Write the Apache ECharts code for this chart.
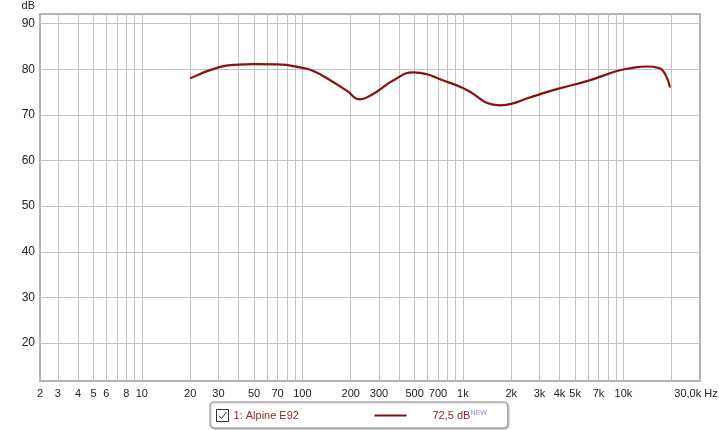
<!DOCTYPE html>
<html>
<head>
<meta charset="utf-8">
<script src="https://cdn.jsdelivr.net/npm/echarts@6/dist/echarts.min.js"></script>
<style>
  html, body { margin: 0; padding: 0; background: #fff; }
  #chart { width: 719px; height: 430px; }
</style>
</head>
<body>
<div id="chart"></div>
<script>
// frequency response (Hz -> dB)
var freqs = [20, 30, 40, 50, 70, 100, 117, 149, 189, 229, 264, 300, 370, 492, 597, 722, 1000, 1706, 2000, 2500, 3000, 4000, 6070, 9100, 11000, 14000, 16500, 18200, 19500]
var spl = [78.0, 80.4, 81.0, 81.1, 81.05, 80.3, 79.6, 77.6, 75.3, 73.4, 74.2, 75.4, 77.6, 79.3, 78.9, 77.8, 75.9, 72.1, 72.4, 73.6, 74.5, 75.8, 77.5, 79.6, 80.2, 80.6, 80.3, 78.9, 76.0]

// axis range and grid
var freqMin = 2.32
var freqMax = 30000
var gridFreqs = [3, 4, 5, 6, 7, 8, 9, 10, 20, 30, 40, 50, 60, 70, 80, 90, 100, 200, 300, 400, 500, 600, 700, 800, 900,
  1000, 2000, 3000, 4000, 5000, 6000, 7000, 8000, 9000, 10000, 20000]
var labelFreqs = [freqMin, 3, 4, 5, 6, 8, 10, 20, 30, 50, 70, 100, 200, 300, 500, 700, 1000, 2000, 3000, 4000, 5000, 7000, 10000, freqMax]
var labelTexts = ['2', '3', '4', '5', '6', '8', '10', '20', '30', '50', '70', '100', '200', '300', '500', '700', '1k', '2k', '3k', '4k', '5k', '7k', '10k', '30,0k Hz']
var dbTicks = [20, 30, 40, 50, 60, 70, 80, 90]

var seriesName = '1: Alpine E92'
var legendValue = '72,5 dB'

var lg = function (f) { return Math.log10(f) }

var chart = echarts.init(document.getElementById('chart'))
chart.setOption({
  animation: false,
  textStyle: { fontFamily: 'Liberation Sans' },
  grid: {
    left: 40, right: 19, top: 14, bottom: 49,
    outerBoundsMode: 'none',
    containLabel: false,
    show: true,
    backgroundColor: '#fff',
    borderColor: '#b4b4b4',
    borderWidth: 2
  },
  xAxis: {
    type: 'value',
    min: lg(freqMin),
    max: lg(freqMax),
    axisLine: { show: false },
    axisTick: { show: false, customValues: gridFreqs.map(lg) },
    splitLine: { show: true, lineStyle: { color: '#c4c4c4', width: 1 } },
    axisLabel: {
      customValues: labelFreqs.map(lg),
      margin: 7,
      fontSize: 11,
      color: '#222',
      formatter: function (v) {
        var best = 0
        for (var i = 0; i < labelFreqs.length; i++) {
          if (Math.abs(lg(labelFreqs[i]) - v) < Math.abs(lg(labelFreqs[best]) - v)) best = i
        }
        // last label sits against the right edge
        if (best === labelFreqs.length - 1) return '{e|' + labelTexts[best] + '}'
        return labelTexts[best]
      },
      rich: {
        e: { fontSize: 11, color: '#222', padding: [0, 8, 0, 0], fontFamily: 'Liberation Sans' }
      }
    }
  },
  yAxis: {
    type: 'value',
    min: 11.7,
    max: 92.1,
    name: 'dB',
    nameLocation: 'end',
    nameGap: 3,
    nameTextStyle: { color: '#222', fontSize: 11, align: 'right', padding: [0, 5, 0, 0] },
    axisLine: { show: false },
    axisTick: { show: false, customValues: dbTicks },
    splitLine: { show: true, lineStyle: { color: '#c4c4c4', width: 1 } },
    axisLabel: { customValues: dbTicks, margin: 5, fontSize: 12, color: '#222' }
  },
  legend: {
    left: 210,
    top: 402,
    padding: [7, 21, 6, 6],
    backgroundColor: '#fff',
    borderColor: '#8c8c8c',
    borderWidth: 1,
    borderRadius: 4,
    shadowColor: 'rgba(0,0,0,0.25)',
    shadowBlur: 2,
    shadowOffsetX: 1,
    shadowOffsetY: 1,
    itemWidth: 12,
    itemHeight: 12,
    icon: 'path://M0,0L12,0L12,12L0,12Z M2.5,6.2L5,9L10,2.5',
    itemStyle: { color: 'transparent', borderColor: '#333', borderWidth: 1 },
    data: [seriesName],
    formatter: function (name) {
      return '{n|' + name + '}{l|}{v|' + legendValue + '}{s|NEW}'
    },
    textStyle: {
      rich: {
        n: { width: 141, fontSize: 11, color: '#8b2a2a', fontFamily: 'Liberation Sans' },
        l: { width: 32, height: 2, backgroundColor: '#701818' },
        v: { padding: [0, 0, 0, 26], fontSize: 11, color: '#8b2a2a', fontFamily: 'Liberation Sans' },
        s: { fontSize: 7, color: '#8a8ad8', verticalAlign: 'top', fontFamily: 'Liberation Sans' }
      }
    }
  },
  series: [{
    name: seriesName,
    type: 'line',
    smooth: 0.5,
    symbol: 'none',
    lineStyle: { color: '#8b1010', width: 2.2 },
    itemStyle: { color: '#8b1010' },
    data: freqs.map(function (f, i) { return [lg(f), spl[i]] })
  }]
})
</script>
</body>
</html>
